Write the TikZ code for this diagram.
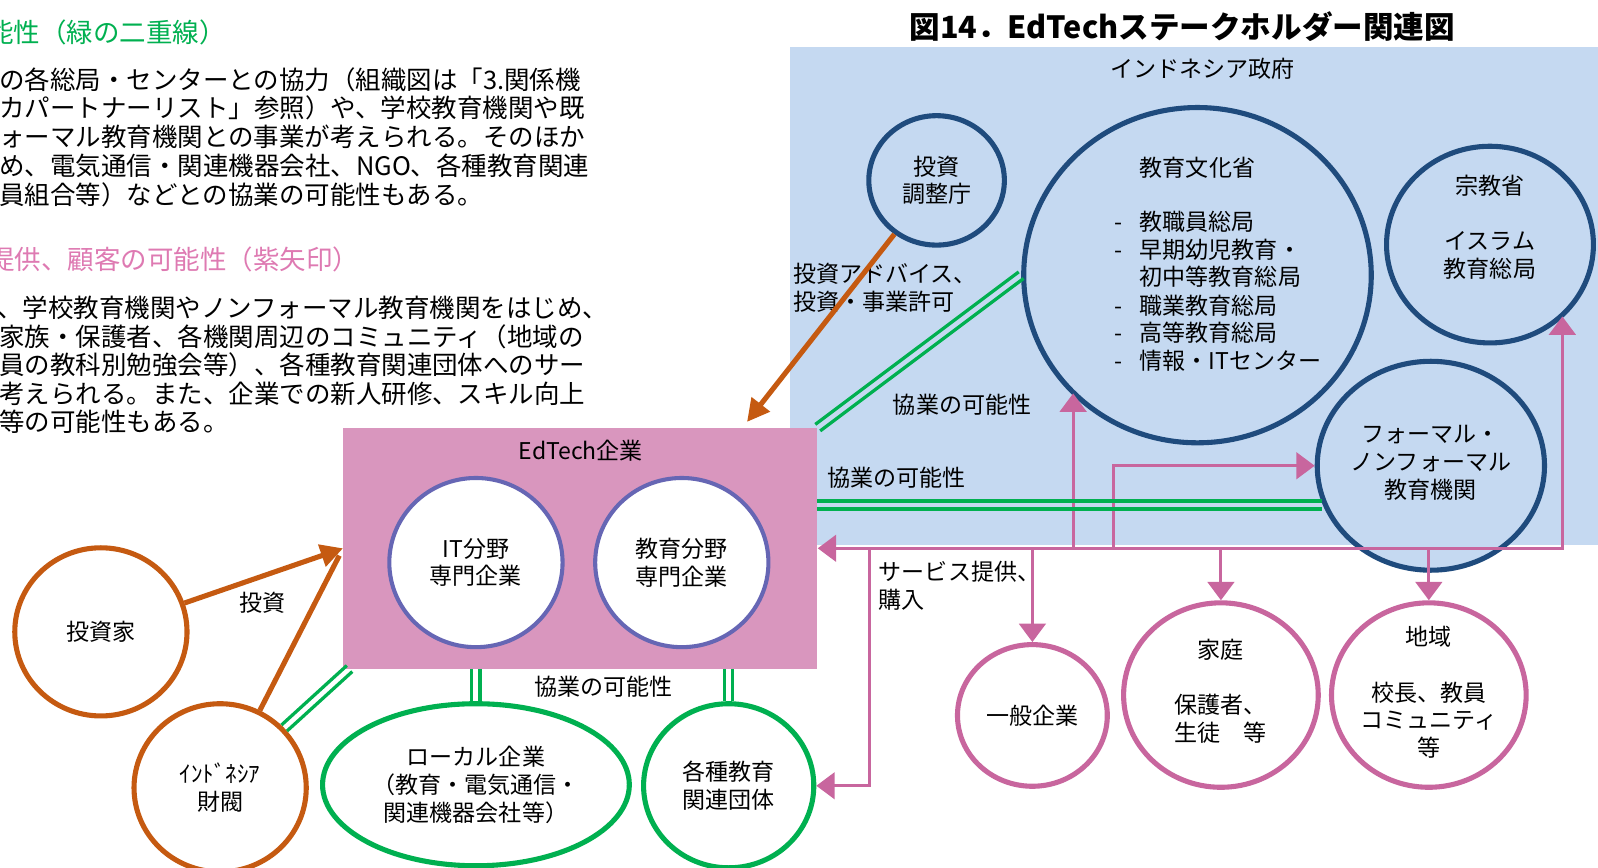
\documentclass[tikz,border=0pt]{standalone}
\usepackage{fontspec}
\setmainfont{Noto Sans CJK JP}
\usetikzlibrary{shapes.geometric,arrows.meta,calc}
\definecolor{bgblue}{RGB}{197,217,241}
\definecolor{dblue}{RGB}{31,75,125}
\definecolor{pkfill}{RGB}{217,150,190}
\definecolor{pk}{RGB}{200,102,158}
\definecolor{pkhead}{RGB}{222,122,178}
\definecolor{purp}{RGB}{102,102,180}
\definecolor{org}{RGB}{197,90,17}
\definecolor{grn}{RGB}{0,176,80}
\newcommand{\gdouble}[2]{%
  \draw[gline] ($(#1)!2pt!90:(#2)$) -- ($(#2)!2pt!-90:(#1)$);
  \draw[gline] ($(#1)!2pt!-90:(#2)$) -- ($(#2)!2pt!90:(#1)$);}
\begin{document}
\begin{tikzpicture}[x=0.5pt,y=-0.5pt,
  t/.style={font=\fontsize{11.3}{13.6}\selectfont, inner sep=0pt, align=center, text=black},
  t1/.style={t, text height=9.9pt, text depth=1.4pt},
  body/.style={font=\fontsize{12.5}{14}\selectfont, inner sep=0pt, anchor=west, text height=11pt, text depth=1.5pt},
  head/.style={font=\fontsize{13}{15}\selectfont, inner sep=0pt, anchor=west, text height=11.4pt, text depth=1.6pt},
  bc/.style={ellipse, draw=dblue, line width=2.5pt, fill=bgblue, inner sep=0pt},
  oc/.style={ellipse, draw=org, line width=2.5pt, fill=white, inner sep=0pt},
  gc/.style={ellipse, draw=grn, line width=2.5pt, fill=white, inner sep=0pt},
  pc/.style={ellipse, draw=pk, line width=2.5pt, fill=white, inner sep=0pt},
  uc/.style={ellipse, draw=purp, line width=2pt, fill=white, inner sep=0pt},
  gline/.style={draw=grn, line width=1.6pt},
  pline/.style={draw=pk, line width=1.5pt},
  ptip/.style={-{Triangle[length=9pt,width=13pt]}},
  oarrow/.style={draw=org, line width=2.5pt, -{Triangle[length=11pt,width=11pt]}}
]
\useasboundingbox (0,0) rectangle (1568,851);

% ---------- left text ----------
\node[head, text=grn] (h1) at (-13,32) {能性（緑の二重線）};
\node[body] (a1) at (-1,78) {の各総局・センターとの協力（組織図は「3.関係機};
\node[body] (a2) at (-1,106) {カパートナーリスト」参照）や、学校教育機関や既};
\node[body] (a3) at (-1,134) {ォーマル教育機関との事業が考えられる。そのほか};
\node[body] (a4) at (-1,163) {め、電気通信・関連機器会社、NGO、各種教育関連};
\node[body] (a5) at (-1,191) {員組合等）などとの協業の可能性もある。};
\node[head, text=pkhead] (h2) at (-12,255) {提供、顧客の可能性（紫矢印）};
\node[body] (b1) at (-3,302) {、学校教育機関やノンフォーマル教育機関をはじめ、};
\node[body] (b2) at (-1,330) {家族・保護者、各機関周辺のコミュニティ（地域の};
\node[body] (b3) at (-1,358) {員の教科別勉強会等）、各種教育関連団体へのサー};
\node[body] (b4) at (-1,386) {考えられる。また、企業での新人研修、スキル向上};
\node[body] (b5) at (-1,414) {等の可能性もある。};

% ---------- title ----------
\node[font=\fontsize{15}{18}\selectfont\bfseries, inner sep=0pt] (title) at (1160,26) {図14．EdTechステークホルダー関連図};

% ---------- government area ----------
\node[fill=bgblue, inner sep=0pt, minimum width=398pt, minimum height=244pt, anchor=north west] (gov) at (775,46) {};
\node[t1] (govlbl) at (1180,68) {インドネシア政府};

\node[bc, t, minimum width=66.5pt, minimum height=63.5pt] (invest) at (919,177) {投資\\調整庁};
\node[bc, minimum width=170.5pt, minimum height=164.5pt] (mext) at (1175,270) {};
\node[t1] (mextlbl) at (1175,165) {教育文化省};
\foreach \tx/\yy [count=\i] in {教職員総局/218, 早期幼児教育・/245, 初中等教育総局/272, 職業教育総局/300, 高等教育総局/327, 情報・ITセンター/354}
  \node[t1, anchor=west] (ml\i) at (1118,\yy) {\tx};
\foreach \yy [count=\i] in {218,245,300,327,354}
  \node[t1, anchor=west] (md\i) at (1093,\yy) {-};
\node[bc, minimum width=101.5pt, minimum height=96.5pt] (mora) at (1462,240) {};
\node[t1] (moralbl) at (1462,182) {宗教省};
\node[t] (moralbl2) at (1462,250.5) {イスラム\\教育総局};
\node[bc, minimum width=111.5pt, minimum height=102.5pt] (formal) at (1404,457) {};
\node[t] (formallbl) at (1404,454) {フォーマル・\\ノンフォーマル\\教育機関};

% ---------- EdTech ----------
\node[fill=pkfill, inner sep=0pt, minimum width=232.5pt, minimum height=118pt] (edtech) at (569.5,538) {};
\node[t1] (edtechlbl) at (570,442) {EdTech企業};
\node[uc, t, minimum width=85pt, minimum height=83pt] (it) at (467,552) {IT分野\\専門企業};
\node[uc, t, minimum width=85pt, minimum height=83pt] (edu) at (669,552) {教育分野\\専門企業};

% ---------- left / bottom nodes ----------
\node[oc, t, minimum width=84.5pt, minimum height=82.5pt] (investor) at (99,620) {投資家};
\node[oc, t, minimum width=84.5pt, minimum height=82.5pt] (zaibatsu) at (216,773) {ｲﾝﾄﾞﾈｼｱ\\財閥};
\node[gc, t, minimum width=150.5pt, minimum height=79.5pt] (local) at (467,770) {ローカル企業\\（教育・電気通信・\\関連機器会社等）};
\node[gc, t, minimum width=83.5pt, minimum height=80.5pt] (kakushu) at (715,771) {各種教育\\関連団体};

\node[pc, t, minimum width=73.5pt, minimum height=69.5pt] (ippan) at (1013,702) {一般企業};
\node[pc, minimum width=95.5pt, minimum height=90.5pt] (katei) at (1198,682) {};
\node[t1] (kateilbl) at (1198,638) {家庭};
\node[t] (kateilbl2) at (1198,705.5) {保護者、\\生徒　等};
\node[pc, minimum width=95.5pt, minimum height=90.5pt] (chiiki) at (1402,682) {};
\node[t1] (chiikilbl) at (1402,625) {地域};
\node[t] (chiikilbl2) at (1402,706.5) {校長、教員\\コミュニティ\\等};

% ---------- labels ----------
\node[t, align=left, anchor=west] (advlbl) at (778,282.5) {投資アドバイス、\\投資・事業許可};
\node[t1] (coop1) at (944,397) {協業の可能性};
\node[t1] (coop2) at (880,469) {協業の可能性};
\node[t1] (coop3) at (592,674) {協業の可能性};
\node[t1] (invlbl) at (258,592) {投資};
\node[t, align=left, anchor=west] (svclbl) at (862,575) {サービス提供、\\購入};

% ---------- pink service arrows ----------
\coordinate (pR) at (1533,538);
\draw[pline, {Triangle[length=9pt,width=13pt]}-{Triangle[length=9pt,width=13pt]}]
  (edtech.east |- pR) -- (pR) -- (pR |- mora.-44);
\coordinate (pM) at (1053,538);
\draw[pline, ptip] (pM) -- (pM |- mext.223);
\coordinate (pF) at (1093,538);
\draw[pline, ptip] (pF) |- (formal.west);
\draw[pline, ptip] (ippan.north |- pR) -- (ippan.north);
\draw[pline, ptip] (katei.north |- pR) -- (katei.north);
\draw[pline, ptip] (chiiki.north |- pR) -- (chiiki.north);
\coordinate (pK) at (853,538);
\draw[pline, ptip] (pK) |- (kakushu.east);

% ---------- green double lines ----------
\coordinate (g2a) at (802,495.5);
\coordinate (g2b) at (1297,495.5);
\coordinate (g3a) at (local.north |- edtech.south);
\coordinate (g4a) at (kakushu.north |- edtech.south);
\coordinate (g5b) at (343,656);
\coordinate (g1a) at (edtech.north east);
\gdouble{g1a}{mext.west}
\gdouble{g2a}{g2b}
\gdouble{g3a}{local.north}
\gdouble{g4a}{kakushu.north}
\gdouble{zaibatsu.43}{g5b}

% ---------- orange investment arrows ----------
\coordinate (tipA) at (733,414);
\draw[oarrow] (invest) -- (tipA);
\draw[oarrow] (investor) -- (edtech.west);
\draw[draw=org, line width=2.5pt, shorten >=4pt] (zaibatsu) -- (edtech.west);
\end{tikzpicture}
\end{document}
